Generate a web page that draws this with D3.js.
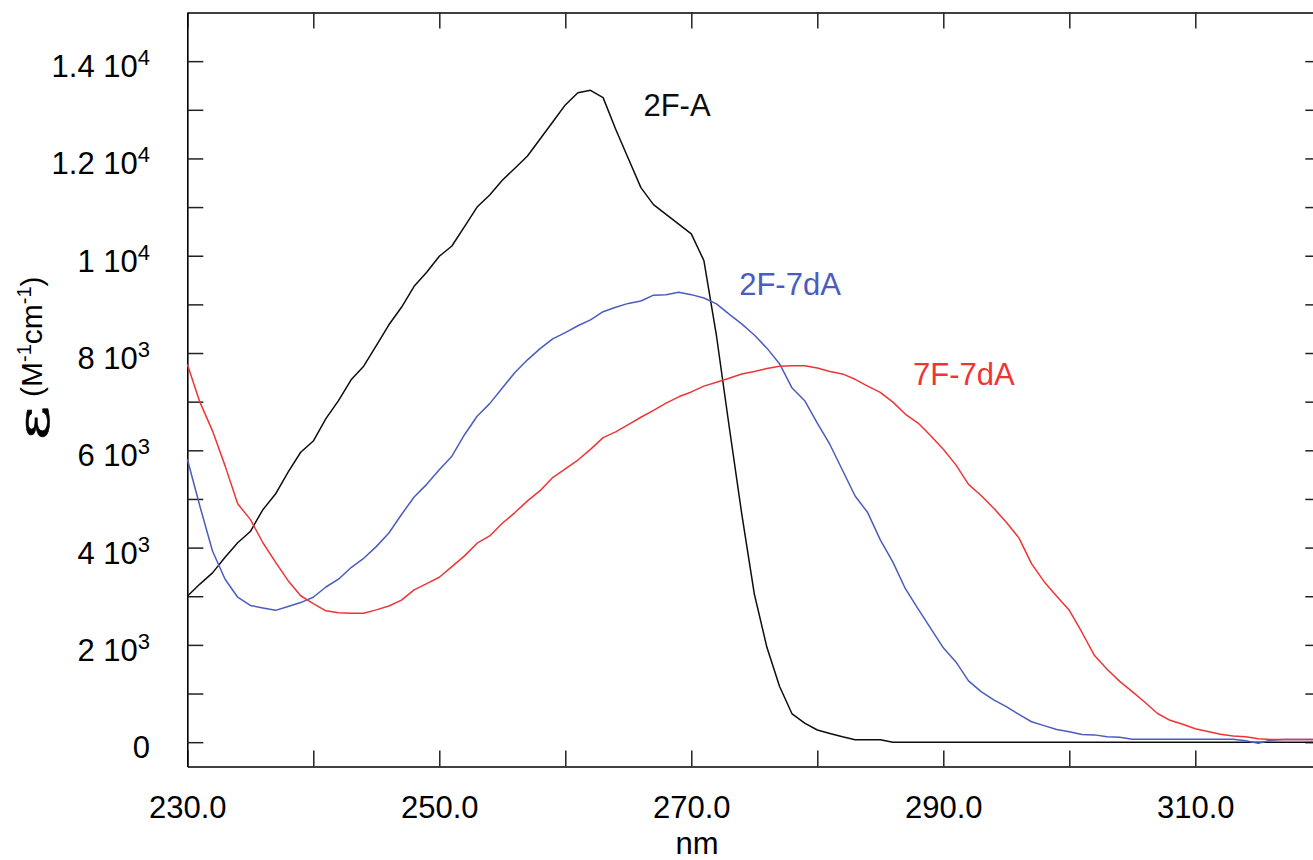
<!DOCTYPE html>
<html lang="en">
    <head>
        <meta charset="utf-8">
        <title>extinction spectra</title>
        <script src="https://cdnjs.cloudflare.com/ajax/libs/d3/7.8.5/d3.min.js"></script>
        <style>
        body{
            margin:0;
            background-color:white;
        }
        svg{
            font-family:"Liberation Sans", Arial, sans-serif;
        }
        </style>
    </head>
    <body>
        <script type="text/javascript">

        // wavelengths (nm), one reading per nm
        var wavelength = [230,231,232,233,234,235,236,237,238,239,
                          240,241,242,243,244,245,246,247,248,249,
                          250,251,252,253,254,255,256,257,258,259,
                          260,261,262,263,264,265,266,267,268,269,
                          270,271,272,273,274,275,276,277,278,279,
                          280,281,282,283,284,285,286,287,288,289,
                          290,291,292,293,294,295,296,297,298,299,
                          300,301,302,303,304,305,306,307,308,309,
                          310,311,312,313,314,315,316,317,318,319,320];

        // 2F-A  (black)
        var eps2FA = [3000,3250,3480,3800,4100,4330,4780,5100,5550,5960,
                      6190,6650,7020,7450,7730,8150,8580,8940,9370,9660,
                      9990,10200,10600,11000,11250,11550,11800,12050,12400,12750,
                      13100,13350,13400,13250,12600,12000,11400,11050,10850,10650,
                      10450,9900,8350,6500,4700,3050,1950,1150,580,390,
                      250,180,110,50,50,50,0,0,0,0,
                      0,0,0,0,0,0,0,0,0,0,
                      0,0,0,0,0,0,0,0,0,0,
                      0,0,0,0,0,0,0,0,0,0,0];

        // 2F-7dA  (blue)
        var eps2F7dA = [5820,4850,3930,3350,2980,2810,2760,2710,2790,2870,
                        2980,3190,3350,3590,3780,4020,4300,4680,5040,5300,
                        5600,5880,6320,6700,6960,7280,7600,7860,8090,8290,
                        8420,8560,8680,8850,8940,9020,9070,9190,9200,9250,
                        9200,9130,9010,8800,8600,8370,8100,7780,7280,7020,
                        6560,6120,5590,5060,4720,4160,3700,3150,2740,2340,
                        1940,1650,1260,1040,870,730,570,420,340,260,
                        215,160,150,110,100,60,60,60,60,60,
                        60,60,60,60,30,-20,40,55,55,55,55];

        // 7F-7dA  (red)
        var eps7F7dA = [7770,6990,6400,5680,4900,4580,4100,3700,3320,3010,
                        2850,2700,2660,2650,2650,2720,2800,2920,3130,3260,
                        3390,3610,3830,4090,4240,4500,4720,4960,5170,5440,
                        5620,5800,6020,6260,6380,6530,6680,6820,6970,7100,
                        7200,7320,7400,7480,7570,7620,7680,7730,7740,7740,
                        7690,7620,7570,7460,7320,7190,6990,6740,6560,6300,
                        6020,5700,5300,5070,4810,4520,4200,3670,3300,3000,
                        2710,2260,1780,1500,1250,1040,820,590,450,370,
                        276,220,165,125,110,70,55,55,55,55,55];

        var seriesNames = ["2F-A", "2F-7dA", "7F-7dA"];
        var seriesColors = ["#0d0d0d", "#4a5dbf", "#ee3535"];

        var xTicks = [230,240,250,260,270,280,290,300,310,320];
        var xLabelTicks = [230,250,270,290,310];
        var yTicks = [0,1000,2000,3000,4000,5000,6000,7000,8000,9000,10000,11000,12000,13000,14000];
        var yLabelTicks = [0,2000,4000,6000,8000,10000,12000,14000];

        // where the curve names sit, in data units
        var labelSpots = [ {x: 266.2, y: 12880}, {x: 273.8, y: 9200}, {x: 287.6, y: 7350} ];

        let w = 1313;
        let h = 860;
        //frame edges (the right one falls just outside the window)
        var padLeft = 187.3, padRight = 1321.3, padTop = 12.5, padBottom = 766.5;

        var svg = d3.select("body")
                    .append("svg")
                    .attr("width", w)
                    .attr("height", h);

        var x = d3.scaleLinear().domain([230, 320]).range([padLeft, padRight]);
        var y = d3.scaleLinear().domain([-500, 15000]).range([padBottom, padTop]);

        //axes, ticks point inward on all four sides
        var xb = svg.append("g")
            .attr("transform", "translate(0," + padBottom + ")")
            .call(d3.axisBottom(x).tickValues(xTicks).tickSizeInner(-16).tickSizeOuter(0).tickPadding(29)
                .tickFormat(function(d){ return xLabelTicks.indexOf(d) >= 0 ? d.toFixed(1) : ""; }));
        var xt = svg.append("g")
            .attr("transform", "translate(0," + padTop + ")")
            .call(d3.axisTop(x).tickValues(xTicks).tickSizeInner(-16).tickSizeOuter(0).tickFormat(""));
        var yl = svg.append("g")
            .attr("transform", "translate(" + padLeft + ",0)")
            .call(d3.axisLeft(y).tickValues(yTicks).tickSizeInner(-16).tickSizeOuter(0).tickFormat(""));
        var yr = svg.append("g")
            .attr("transform", "translate(" + padRight + ",0)")
            .call(d3.axisRight(y).tickValues(yTicks).tickSizeInner(-16).tickSizeOuter(0).tickFormat(""));

        svg.selectAll(".domain").attr("stroke", "#000").attr("stroke-width", 1.6);
        svg.selectAll(".tick line").attr("stroke", "#222").attr("stroke-width", 1.5);
        xb.selectAll("text").attr("font-size", 31).attr("fill", "#000")
            .attr("font-family", "Liberation Sans, Arial, sans-serif");

        // y tick labels like "1.4 10^4"
        var ylab = svg.append("g");
        yLabelTicks.forEach(function(v){
            var t = ylab.append("text")
                .attr("x", 150)
                .attr("y", y(v) + 16)
                .attr("text-anchor", "end")
                .attr("font-size", 31)
                .attr("fill", "#000");
            if (v === 0) { t.text("0"); return; }
            var e = Math.floor(Math.log10(v));
            var m = +(v / Math.pow(10, e)).toFixed(1);
            t.append("tspan").text(m + " 10");
            t.append("tspan").attr("font-size", 22).attr("dy", -12).text(e);
        });

        // axis titles
        svg.append("text")
            .attr("x", 697).attr("y", 854)
            .attr("text-anchor", "middle")
            .attr("font-size", 31)
            .text("nm");

        var yt = svg.append("text")
            .attr("transform", "translate(42,397) rotate(-90)")
            .attr("font-size", 30);
        yt.append("tspan").text("(M");
        yt.append("tspan").attr("font-size", 20).attr("dy", -11).text("-1");
        yt.append("tspan").attr("dy", 11).text("cm");
        yt.append("tspan").attr("font-size", 20).attr("dy", -11).text("-1");
        yt.append("tspan").attr("dy", 11).text(")");

        // the big epsilon, stretched a bit like the symbol font one
        svg.append("text")
            .attr("transform", "translate(49,440) rotate(-90) scale(1.5,1)")
            .attr("font-family", "DejaVu Serif, Liberation Serif, serif")
            .attr("font-size", 44)
            .attr("stroke", "#000")
            .attr("stroke-width", 0.6)
            .text("\u03b5");

        // curves
        var allSeries = [eps2FA, eps2F7dA, eps7F7dA];
        var line = d3.line()
            .x(function(d, i){ return x(wavelength[i]); })
            .y(function(d){ return y(d); });

        svg.selectAll(".curve")
            .data(allSeries)
            .enter()
            .append("path")
            .attr("class", "curve")
            .attr("d", line)
            .attr("fill", "none")
            .attr("stroke", function(d, i){ return seriesColors[i]; })
            .attr("stroke-width", 1.5)
            .attr("stroke-linejoin", "round");

        svg.selectAll(".curveName")
            .data(seriesNames)
            .enter()
            .append("text")
            .attr("class", "curveName")
            .attr("x", function(d, i){ return x(labelSpots[i].x); })
            .attr("y", function(d, i){ return y(labelSpots[i].y); })
            .attr("font-size", 31)
            .attr("fill", function(d, i){ return seriesColors[i]; })
            .text(function(d){ return d; });

        </script>
    </body>
</html>
